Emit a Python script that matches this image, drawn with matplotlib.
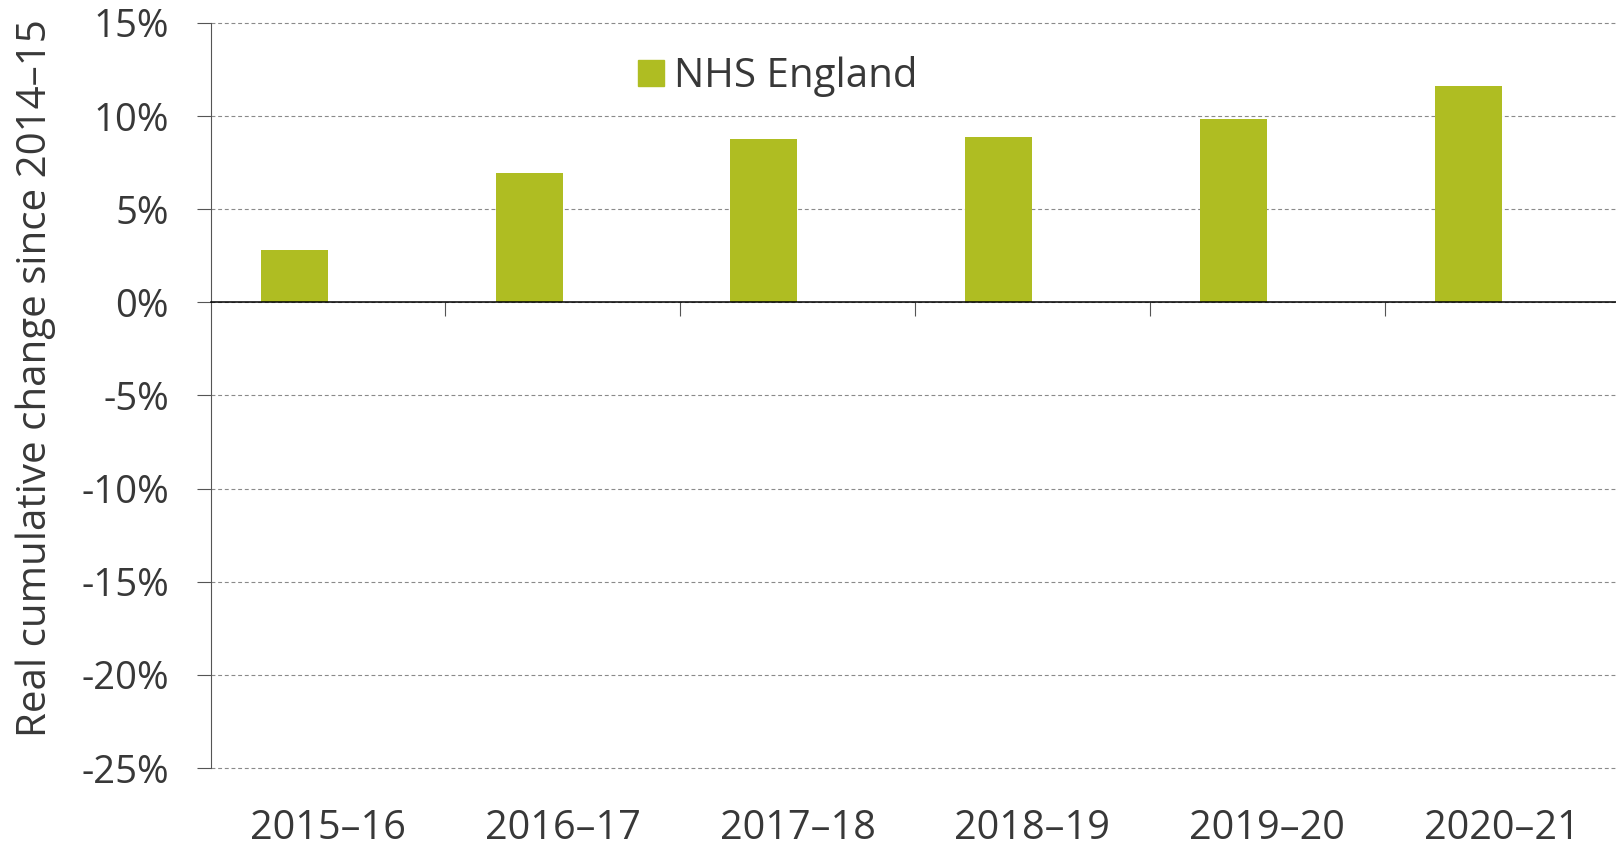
import matplotlib
matplotlib.use("Agg")
import matplotlib.pyplot as plt
from matplotlib.patches import Rectangle
import numpy as np

categories = ["2015\u201316", "2016\u201317", "2017\u201318", "2018\u201319", "2019\u201320", "2020\u201321"]
nhs_england = [2.8, 6.95, 8.75, 8.9, 9.85, 11.6]
series_name = "NHS England"
y_ticks = [-25, -20, -15, -10, -5, 0, 5, 10, 15]
y_label = "Real cumulative change since 2014\u201315"

BAR = "#AFBD22"
TXT = "#383838"

plt.rcParams['font.family'] = ['Open Sans', 'DejaVu Sans']

fig = plt.figure(figsize=(16.16, 8.46), dpi=100)
ax = fig.add_axes([210.5 / 1616, 1 - 768 / 846, 1408.8 / 1616, (768 - 23) / 846])

x = np.arange(len(categories))
w = 0.286
ax.bar(x - w / 2, nhs_england, width=w, color=BAR, zorder=3)

ax.set_xlim(-0.5, len(categories) - 0.5)
ax.set_ylim(min(y_ticks), max(y_ticks))

# y axis
ax.set_yticks(y_ticks)
ax.set_yticklabels([f"{v}%" for v in y_ticks])
ax.tick_params(axis='y', direction='out', length=10, width=0.8, color='#555555',
               labelsize=27.5, labelcolor=TXT, pad=20)
ax.yaxis.grid(True, color='#8a8a8a', linestyle=(0, (3.5, 2.5)), linewidth=0.8)
for gl in ax.get_ygridlines():
    gl.set_clip_on(False)
ax.set_axisbelow(True)

# spines
ax.spines['top'].set_visible(False)
ax.spines['right'].set_visible(False)
ax.spines['left'].set_color('#555555')
ax.spines['left'].set_linewidth(0.8)
ax.spines['bottom'].set_position(('data', 0))
ax.spines['bottom'].set_color('black')
ax.spines['bottom'].set_linewidth(1.1)
ax.spines['bottom'].set_zorder(4)

# x ticks at category boundaries on the zero line
ax.set_xticks(x[:-1] + 0.5)
ax.set_xticklabels([])
ax.tick_params(axis='x', direction='out', length=10, width=0.8, color='#555555')

# category labels at bottom
sec = ax.secondary_xaxis(0)
sec.set_xticks(x)
sec.set_xticklabels(categories)
sec.tick_params(axis='x', length=0, labelsize=28.5, labelcolor=TXT, pad=29)
sec.spines['bottom'].set_visible(False)

ax.set_ylabel(y_label, fontsize=29, color=TXT)
ax.yaxis.set_label_coords(-0.1095, 0.523)

handle = Rectangle((0, 0), 1, 1, color=BAR)
leg = ax.legend([handle], [series_name], loc='center left', bbox_to_anchor=(0.3036, 0.9285),
                frameon=False, fontsize=29, borderpad=0, borderaxespad=0,
                handlelength=0.645, handleheight=0.62, handletextpad=0.25,
                labelcolor=TXT)

fig.savefig("out.png", dpi=100)
